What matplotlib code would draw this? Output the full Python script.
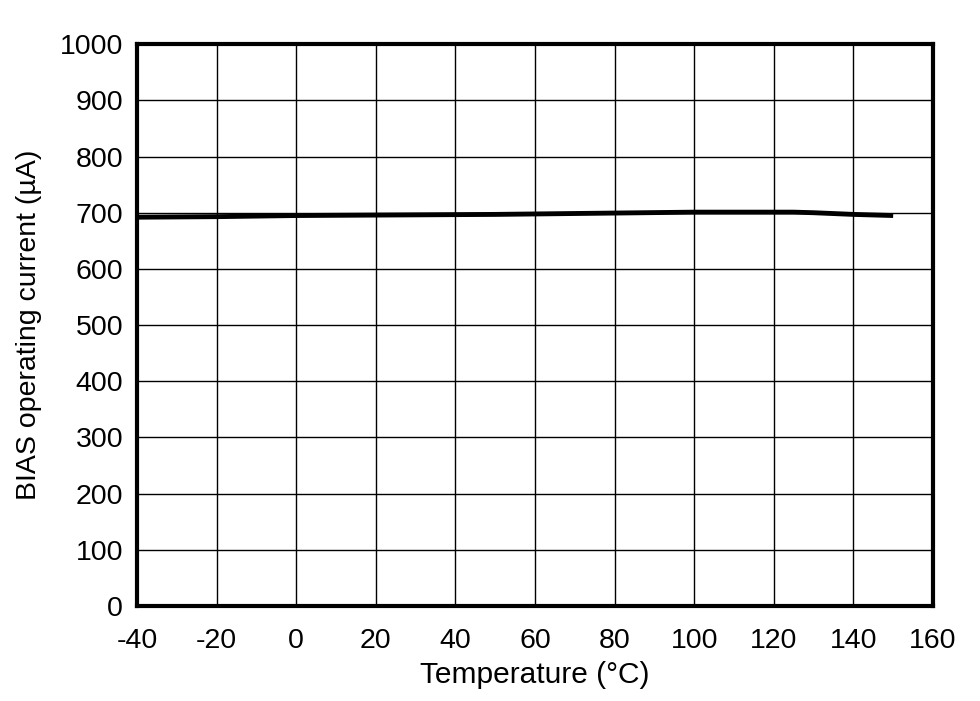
import matplotlib
matplotlib.use('Agg')
import matplotlib.pyplot as plt

# 温度和电流数据
temp = [-40, -20, 0, 25, 50, 75, 100, 125, 130, 140, 150]
bias_current = [692, 693, 695, 696, 697, 699, 701, 701, 700, 697, 695]

x_ticks = list(range(-40, 161, 20))
y_ticks = list(range(0, 1001, 100))

plt.rcParams['font.family'] = ['Liberation Sans', 'DejaVu Sans']
plt.rcParams['axes.unicode_minus'] = False  # 用普通连字符作负号

fig = plt.figure(figsize=(9.8, 7.01), dpi=100)
ax = fig.add_axes([0.1398, 0.1355, 0.8122, 0.8015])

ax.plot(temp, bias_current, color='black', linewidth=3.5, solid_capstyle='butt')

ax.set_xlim(-40, 160)
ax.set_ylim(0, 1000)
ax.set_xticks(x_ticks)
ax.set_yticks(y_ticks)
ax.grid(True, color='black', linewidth=1)
ax.tick_params(length=0, labelsize=20.5)
ax.tick_params(axis='x', pad=16)
ax.tick_params(axis='y', pad=10)
for s in ax.spines.values():
    s.set_linewidth(3)

ax.set_xlabel('Temperature (°C)', fontsize=21.5, labelpad=5)
ax.set_ylabel('BIAS operating current (µA)', fontsize=20.5, labelpad=13)

fig.savefig('out.png', dpi=100)
